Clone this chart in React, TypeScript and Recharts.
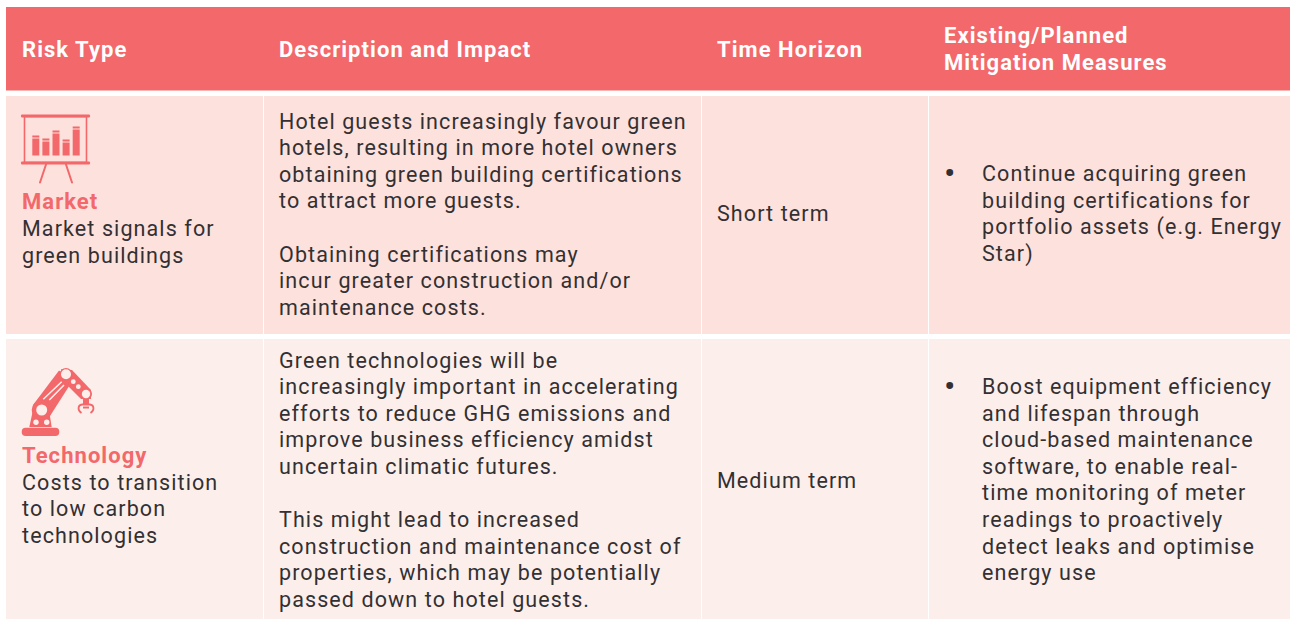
import React from 'react';
import { ComposedChart, Scatter, XAxis, YAxis, ReferenceArea } from 'recharts';

const WIDTH = 1290;
const HEIGHT = 619;

// table grid, in the chart's own units
const columnEdges = [6, 263, 701, 928, 1290];
const headerBand = [7, 90];
const rowBands = [[96, 334], [339, 619]];
const rowFills = ['#fde1dc', '#fcefeb'];

const headerLabels = ['Risk Type', 'Description and Impact', 'Time Horizon'];
const headerStacked = ['Existing/Planned', 'Mitigation Measures'];

const marketTitle = 'Market';
const marketRisk = ['Market signals for', 'green buildings'];
const marketImpact = [
  'Hotel guests increasingly favour green',
  'hotels, resulting in more hotel owners',
  'obtaining green building certifications',
  'to attract more guests.',
  '',
  'Obtaining certifications may',
  'incur greater construction and/or',
  'maintenance costs.',
];
const marketHorizon = 'Short term';
const marketMeasures = [
  'Continue acquiring green',
  'building certifications for',
  'portfolio assets (e.g. Energy',
  'Star)',
];

const techTitle = 'Technology';
const techRisk = ['Costs to transition', 'to low carbon', 'technologies'];
const techImpact = [
  'Green technologies will be',
  'increasingly important in accelerating',
  'efforts to reduce GHG emissions and',
  'improve business efficiency amidst',
  'uncertain climatic futures.',
  '',
  'This might lead to increased',
  'construction and maintenance cost of',
  'properties, which may be potentially',
  'passed down to hotel guests.',
];
const techHorizon = 'Medium term';
const techMeasures = [
  'Boost equipment efficiency',
  'and lifespan through',
  'cloud-based maintenance',
  'software, to enable real-',
  'time monitoring of meter',
  'readings to proactively',
  'detect leaks and optimise',
  'energy use',
];

const LINE = 26.6;

const stack = (lines: string[], x: number, y: number) =>
  lines
    .map((text, i) => ({ x, y: y + i * LINE, text }))
    .filter((p) => p.text !== '');

const headerPoints = [
  { x: 22, y: 57, text: headerLabels[0] },
  { x: 279, y: 57, text: headerLabels[1] },
  { x: 717, y: 57, text: headerLabels[2] },
  ...stack(headerStacked, 944, 43),
];

const titlePoints = [
  { x: 22, y: 209, text: marketTitle },
  { x: 22, y: 463, text: techTitle },
];

const bulletPoints = [
  { x: 944, y: 185, text: '•' },
  { x: 944, y: 398, text: '•' },
];

const bodyPoints = [
  ...stack(marketRisk, 22, 236),
  ...stack(marketImpact, 279, 128.5),
  { x: 717, y: 221, text: marketHorizon },
  ...stack(marketMeasures, 982, 181),
  ...stack(techRisk, 22, 489.5),
  ...stack(techImpact, 279, 367.5),
  { x: 717, y: 488, text: techHorizon },
  ...stack(techMeasures, 982, 394),
];

const boardBarTops = [21, 24, 16, 25, 12];

const FONT = 'Roboto, sans-serif';
const CORAL = '#f2686b';
const INK = '#333033';
const ROW2 = rowFills[1];

const label = (fill: string, weight: number, size: number, spacing: number) => (props: any) => (
  <text
    x={props.cx}
    y={props.cy}
    fill={fill}
    fontFamily={FONT}
    fontWeight={weight}
    fontSize={size}
    letterSpacing={spacing}
  >
    {props.payload.text}
  </text>
);

const BoardIcon = (props: any) => (
  <g transform={`translate(${props.cx},${props.cy})`} fill={CORAL}>
    <rect x={0} y={0} width={69} height={3} rx={1} />
    <rect x={0} y={47} width={69} height={3} rx={1} />
    <rect x={3.5} y={2} width={62} height={46} fill="none" stroke={CORAL} strokeWidth={1.6} />
    {boardBarTops.map((top, i) => (
      <g key={i}>
        <rect x={11.3 + i * 10.1} y={top} width={7} height={2} />
        <rect x={11.3 + i * 10.1} y={top + 3} width={7} height={41 - top - 3} />
      </g>
    ))}
    <path d="M25 50 L19 68 M45 50 L51 68" stroke={CORAL} strokeWidth={2} strokeLinecap="round" />
  </g>
);

const RobotIcon = (props: any) => (
  <g transform={`translate(${props.cx},${props.cy})`} fill={CORAL} stroke="none">
    <rect x={0.7} y={59.7} width={37.6} height={8.3} rx={4} />
    <path d="M8.3 59 L12 42 L28 42 L30.7 59 Z" />
    <path d="M12 37 L38 2.5 L52 12 L29 48 Z" />
    <path d="M40 1 L51 2 L70 22 L70 31 L60 31 L44 15 Z" />
    <circle cx={45} cy={6.5} r={6.5} />
    <circle cx={20.7} cy={42} r={10} />
    <circle cx={65} cy={26} r={6} />
    <circle cx={20.7} cy={42} r={5.5} fill={ROW2} />
    <circle cx={45} cy={6.3} r={5} fill={ROW2} />
    <circle cx={52.3} cy={13.7} r={2.4} fill={ROW2} />
    <circle cx={57.3} cy={18.7} r={2.4} fill={ROW2} />
    <circle cx={65} cy={26} r={4.2} fill={ROW2} />
    <circle cx={15} cy={54.3} r={2.7} fill={ROW2} />
    <circle cx={25.7} cy={54.3} r={2.7} fill={ROW2} />
    <path d="M22.3 31.3 L40.7 13.7 M28.3 32 L43 17" stroke={ROW2} strokeWidth={1.5} fill="none" />
    <rect x={62} y={31} width={6} height={5} />
    <path
      d="M60.5 45 C56 42 57 37 61 36.5 L69 36.5 C73 37 74 42 69.5 45 M62 39.5 L68 39.5"
      fill="none"
      stroke={CORAL}
      strokeWidth={1.8}
    />
  </g>
);

export default function App() {
  return (
    <div style={{ position: 'absolute', left: 0, top: 0, background: '#fff' }}>
      <ComposedChart width={WIDTH} height={HEIGHT} margin={{ top: 0, right: 0, bottom: 0, left: 0 }}>
        <XAxis type="number" dataKey="x" domain={[0, WIDTH]} hide />
        <YAxis type="number" dataKey="y" domain={[0, HEIGHT]} reversed hide />

        {/* header band and its thin rule */}
        <ReferenceArea
          x1={columnEdges[0]}
          x2={WIDTH}
          y1={headerBand[0]}
          y2={headerBand[1]}
          fill={CORAL}
          fillOpacity={1}
          stroke="none"
        />
        <ReferenceArea x1={columnEdges[0]} x2={WIDTH} y1={90} y2={91} fill="#fab4b2" fillOpacity={1} stroke="none" />

        {/* body cells */}
        {rowBands.map((band, r) =>
          columnEdges.slice(0, -1).map((left, c) => (
            <ReferenceArea
              key={`${r}-${c}`}
              x1={left + (c ? 1 : 0)}
              x2={columnEdges[c + 1]}
              y1={band[0]}
              y2={band[1]}
              fill={rowFills[r]}
              fillOpacity={1}
              stroke="none"
            />
          ))
        )}

        <Scatter data={headerPoints} isAnimationActive={false} shape={label('#ffffff', 700, 22, 1.05)} />
        <Scatter data={titlePoints} isAnimationActive={false} shape={label(CORAL, 700, 22, 1.05)} />
        <Scatter data={bodyPoints} isAnimationActive={false} shape={label(INK, 400, 21.5, 1.1)} />
        <Scatter data={bulletPoints} isAnimationActive={false} shape={label(INK, 400, 34, 0)} />
        <Scatter data={[{ x: 21, y: 114.5 }]} isAnimationActive={false} shape={BoardIcon} />
        <Scatter data={[{ x: 21, y: 368 }]} isAnimationActive={false} shape={RobotIcon} />
      </ComposedChart>
    </div>
  );
}
